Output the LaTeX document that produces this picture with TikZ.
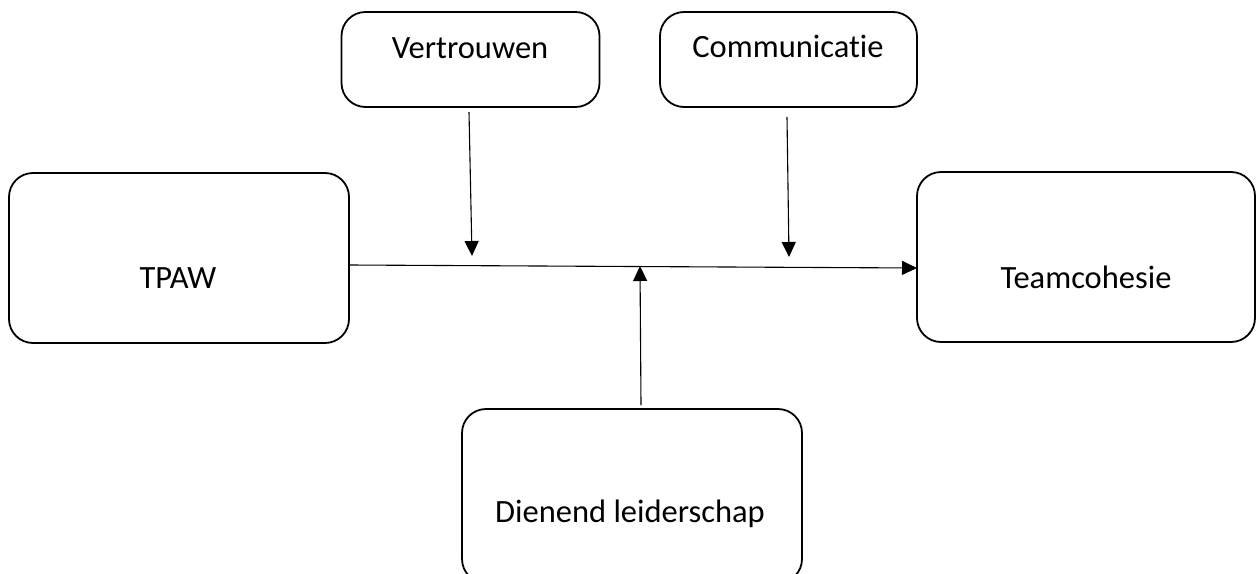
\documentclass[tikz,border=0pt]{standalone}
\usepackage{fontspec}
\setmainfont{Carlito}[Ligatures={NoCommon}]
\usetikzlibrary{arrows.meta}
\begin{document}
\begin{tikzpicture}[x=1pt,y=-1pt,
  box/.style={draw,line width=1.8pt,rounded corners=24pt,inner sep=0pt},
  lbl/.style={font=\fontsize{32.5}{38}\selectfont,inner sep=0pt},
  conn/.style={line width=1.1pt,-{Triangle[length=15pt,width=14pt]}}]
\useasboundingbox (0,0) rectangle (1258,573);
\clip (0,0) rectangle (1258,573);
% boxes
\node[box,minimum width=340pt,minimum height=170pt] (tpaw) at (179,258) {};
\node[box,minimum width=338pt,minimum height=170pt] (team) at (1086,257) {};
\node[box,minimum width=258pt,minimum height=95pt] (vert) at (470.5,59.5) {};
\node[box,minimum width=257pt,minimum height=95pt] (comm) at (788.5,59.5) {};
\node[box,minimum width=340pt,minimum height=174pt] (dien) at (632,496) {};
% texts
\node[lbl] (tpawt) at (178,278) {TPAW};
\node[lbl] (teamt) at (1086,277) {Teamcohesie};
\node[lbl] (vertt) at (470,48) {Vertrouwen};
\node[lbl] (commt) at (788,46) {Communicatie};
\node[lbl] (dient) at (630,514) {Dienend leiderschap};
% connector anchors
\coordinate (m1) at (472,256);
\coordinate (m2) at (789,257);
\coordinate (m3) at (640,266);
\coordinate (v0) at (469,112);
\coordinate (c0) at (787,117);
\coordinate (d0) at (641,405);
\coordinate (ts) at (349.5,265);
\coordinate (te) at (917,268);
\draw[conn] (ts) -- (te);
\draw[conn] (v0) -- (m1);
\draw[conn] (c0) -- (m2);
\draw[conn] (d0) -- (m3);
\end{tikzpicture}
\end{document}
